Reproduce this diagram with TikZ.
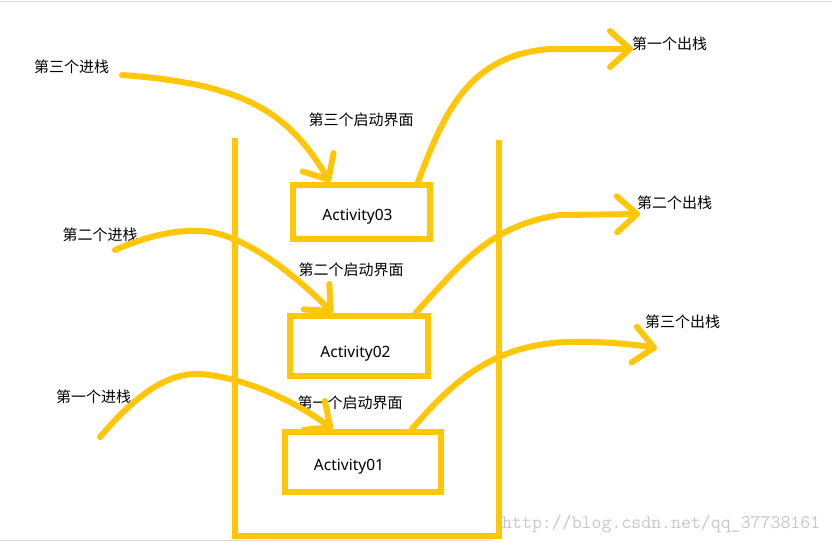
\documentclass[tikz,border=0pt]{standalone}
\usepackage{fontspec}
\setmainfont{Noto Sans}
\newfontfamily\cjk{Noto Sans CJK SC}
\usetikzlibrary{arrows.meta,calc}
\definecolor{ycol}{RGB}{255,198,10}
\definecolor{wmcol}{RGB}{200,200,200}
\definecolor{edgecol}{RGB}{215,215,220}
\tikzset{
  ybox/.style={draw=ycol, line width=6pt, inner sep=0pt, rectangle},
  yline/.style={draw=ycol, line width=6pt, line join=miter},
  arr/.style={draw=ycol, line width=6pt, line cap=round, line join=round,
    -{Straight Barb[length=20pt,width=36pt,round]}},
  lbl/.style={font=\cjk\fontsize{15}{18}\selectfont, inner sep=0pt},
  act/.style={font=\fontsize{15.5}{18}\selectfont, inner sep=0pt, anchor=base},
  wmark/.style={font=\ttfamily\fontsize{19.3}{20}\selectfont, text=wmcol, inner sep=0pt, anchor=base west},
}
\begin{document}
\begin{tikzpicture}[x=1pt,y=-1pt]
\useasboundingbox (0,0) rectangle (832,542);
\fill[white] (0,0) rectangle (832,542);
\draw[edgecol, line width=1.5pt] (0,1.5) -- (832,1.5);
\draw[edgecol, line width=1.5pt] (0,540.5) -- (490,540.5);

% container
\draw[yline] (234.5,138) -- (234.5,535.5) -- (499,535.5) -- (499,140);

% boxes
\node[ybox, minimum width=137pt, minimum height=54pt] (b3) at (361.5,212) {};
\node[ybox, minimum width=137.5pt, minimum height=60pt] (b2) at (358.75,346) {};
\node[ybox, minimum width=155.5pt, minimum height=59.5pt] (b1) at (362.75,461.75) {};
\node[act] (t3) at (357.5,220) {Activity03};
\node[act] (t2) at (355.5,357) {Activity02};
\node[act] (t1) at (349,470) {Activity01};

% labels
\node[lbl] (in3) at (71.5,67) {第三个进栈};
\node[lbl] (in2) at (100,235) {第二个进栈};
\node[lbl] (in1) at (93.5,397) {第一个进栈};
\node[lbl] (st3) at (361,120) {第三个启动界面};
\node[lbl] (st2) at (351,269.5) {第二个启动界面};
\node[lbl] (st1) at (350,402.5) {第一个启动界面};
\node[lbl] (out1) at (669.5,43.5) {第一个出栈};
\node[lbl] (out2) at (674.5,203) {第二个出栈};
\node[lbl] (out3) at (682.5,321.5) {第三个出栈};

% free ends
\coordinate (s3) at (122,75);
\coordinate (s2) at (115,250);
\coordinate (s1) at (100,437);
\coordinate (e1) at (633,49);
\coordinate (e2) at (640,214);
\coordinate (e3) at (657,348);

% in arrows
\draw[arr] (s3) .. controls (245,84) and (288,112) .. ([xshift=-31.5pt]b3.north);
\draw[arr] (s2) .. controls (150,235) and (175,230) .. (200,231)
  .. controls (240,232) and (290,270) .. ([xshift=-26pt]b2.north);
\draw[arr] (s1) .. controls (140,390) and (170,373) .. (200,374)
  .. controls (250,378) and (300,405) .. ([xshift=-30pt]b1.north);

% out arrows
\draw[arr] ([xshift=-15pt]b3.north east) .. controls (445,110) and (470,55) .. (550,49) -- (e1);
\draw[arr] ([xshift=-15pt]b2.north east) .. controls (460,265) and (490,225) .. (560,215) -- (e2);
\draw[arr] ([xshift=-31.5pt]b1.north east) .. controls (450,385) and (490,345) .. (567,342)
  .. controls (600,341) and (630,344) .. (e3);

% watermark
\node[wmark] (wm) at (502,528) {http://blog.csdn.net/qq\_37738161};
\end{tikzpicture}
\end{document}
